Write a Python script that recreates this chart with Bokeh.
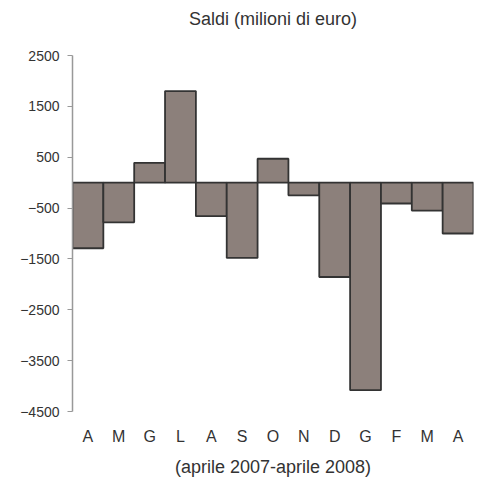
from bokeh.plotting import figure
from bokeh.models import Range1d, FixedTicker, Title
from bokeh.embed import file_html
from bokeh.resources import INLINE

months = ["A", "M", "G", "L", "A", "S", "O", "N", "D", "G", "F", "M", "A"]
saldi = [-1290, -780, 390, 1800, -660, -1480, 470, -250, -1855, -4080, -410, -550, -1000]
y_ticks = [2500, 1500, 500, -500, -1500, -2500, -3500, -4500]

xs = list(range(len(months)))

p = figure(width=482, height=479, output_backend="svg", toolbar_location=None,
           x_range=Range1d(-0.5, len(months) - 0.5), y_range=Range1d(-4500, 2500),
           min_border_left=72, min_border_right=9, min_border_top=55, min_border_bottom=67)

p.vbar(x=xs, top=saldi, bottom=0, width=1.0, fill_color="#8c807b",
       line_color="#333333", line_width=1.8)

p.title = None
spacer = Title(text=" ", text_font_size="1px", standoff=24)
p.add_layout(spacer, "above")
main_title = Title(text="Saldi (milioni di euro)", align="center", text_font="Liberation Sans",
                   text_font_size="18px", text_font_style="normal", text_color="#333333",
                   standoff=0)
p.add_layout(main_title, "above")

p.xgrid.visible = False
p.ygrid.visible = False
p.outline_line_color = None
p.background_fill_color = "white"

ya = p.yaxis[0]
ya.ticker = FixedTicker(ticks=y_ticks)
ya.minor_tick_line_color = None
ya.axis_line_color = "#999999"
ya.axis_line_width = 1.5
ya.major_tick_line_color = "#999999"
ya.major_tick_in = 0
ya.major_tick_out = 5
ya.major_label_standoff = 8
ya.major_label_text_font = "Liberation Sans"
ya.major_label_text_font_size = "14px"
ya.major_label_text_color = "#333333"

xa = p.xaxis[0]
xa.ticker = FixedTicker(ticks=xs)
xa.major_label_overrides = {i: m for i, m in enumerate(months)}
xa.axis_line_color = None
xa.major_tick_line_color = None
xa.minor_tick_line_color = None
xa.major_tick_in = 0
xa.major_tick_out = 0
xa.major_label_standoff = 16
xa.major_label_text_font = "Liberation Sans"
xa.major_label_text_font_size = "16px"
xa.major_label_text_color = "#333333"
xa.axis_label = "(aprile 2007-aprile 2008)"
xa.axis_label_text_font = "Liberation Sans"
xa.axis_label_text_font_size = "18px"
xa.axis_label_text_font_style = "normal"
xa.axis_label_text_color = "#333333"
xa.axis_label_standoff = 9

open("out.html", "w").write(file_html(p, INLINE))
